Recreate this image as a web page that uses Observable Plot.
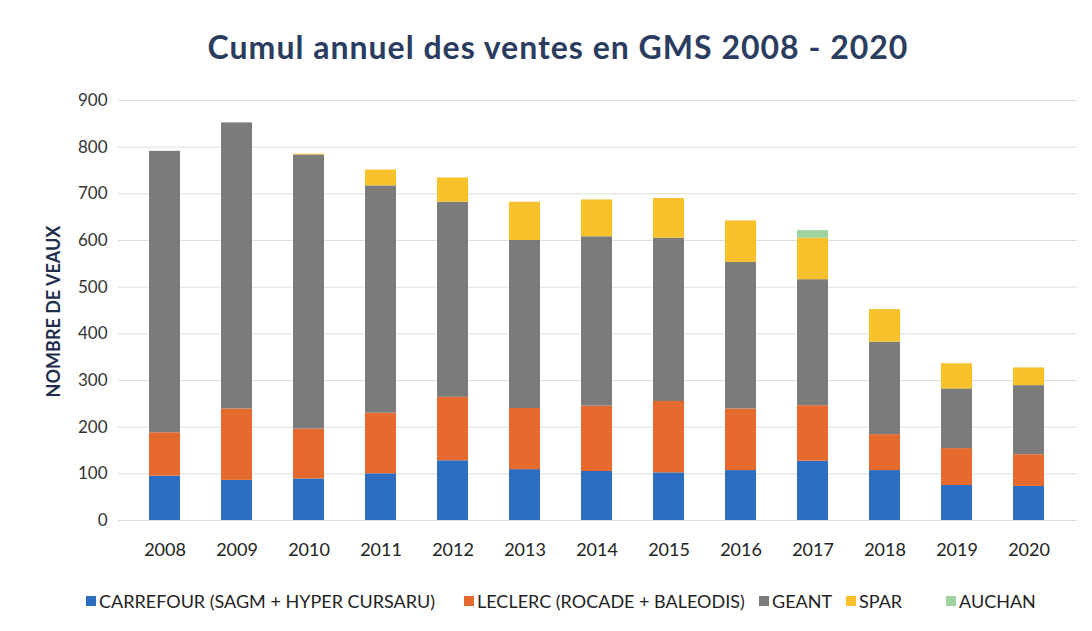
<!DOCTYPE html>
<html><head><meta charset="utf-8">
<script src="https://cdn.jsdelivr.net/npm/d3@7"></script>
<script src="https://cdn.jsdelivr.net/npm/@observablehq/plot@0.6"></script>
<style>
body{margin:0;background:#fff;width:1092px;height:631px;overflow:hidden;font-family:Lato,"Open Sans",sans-serif;position:relative;}
#title{position:absolute;top:27px;left:0;width:1116px;text-align:center;font-weight:bold;font-size:32px;color:#2a3c60;letter-spacing:1px;}
#chart{position:absolute;top:85px;left:0;}
#legend{position:absolute;top:590px;left:0;width:1092px;height:24px;font-size:18px;color:#222;}
#legend .item{position:absolute;top:0;display:flex;align-items:center;white-space:nowrap;}
#legend .sw{width:10px;height:10px;margin-right:3px;}
</style></head>
<body>
<div id="title">Cumul annuel des ventes en GMS 2008 - 2020</div>
<div id="chart"></div>
<div id="legend"></div>
<script>
const years = ["2008","2009","2010","2011","2012","2013","2014","2015","2016","2017","2018","2019","2020"];
const seriesNames = ["CARREFOUR (SAGM + HYPER CURSARU)","LECLERC (ROCADE + BALEODIS)","GEANT","SPAR","AUCHAN"];
const carrefour = [95, 86, 89, 100, 128, 109, 105, 102, 107, 127, 107, 75, 73];
const leclerc   = [93, 153, 107, 130, 136, 131, 140, 153, 132, 119, 77, 79, 68];
const geant     = [603, 613, 587, 487, 418, 360, 363, 350, 314, 270, 198, 128, 148];
const spar      = [0, 0, 2, 34, 52, 82, 79, 85, 89, 89, 70, 54, 38];
const auchan    = [0, 0, 0, 0, 0, 0, 0, 0, 0, 16, 0, 0, 0];
const yTicks = [0,100,200,300,400,500,600,700,800,900];
const colors = ["#2c6dc2","#e6692d","#7b7b7b","#f6c12a","#9dd39f"];
const legendLeft = [86, 464, 759, 846, 946];

const seriesValues = [carrefour, leclerc, geant, spar, auchan];
const data = [];
seriesNames.forEach((s, i) => years.forEach((y, j) => data.push({year: y, series: s, value: seriesValues[i][j]})));

const chart = Plot.plot({
  width: 1092,
  height: 475,
  marginTop: 15,
  marginBottom: 40,
  marginLeft: 124,
  marginRight: 23,
  style: {fontFamily: "Lato, 'Open Sans', sans-serif", fontSize: "16px", color: "#333", background: "transparent"},
  x: {domain: years, paddingInner: 0.57, paddingOuter: 0.285, label: null},
  y: {domain: [0, 900], ticks: yTicks, label: null},
  color: {domain: seriesNames, range: colors},
  marks: [
    Plot.gridY(yTicks, {stroke: "#dedede", strokeOpacity: 1, insetLeft: -6, insetRight: -8}),
    Plot.barY(data, Plot.stackY({order: seriesNames}, {x: "year", y: "value", fill: "series"})),
    Plot.axisY(yTicks, {tickSize: 0, tickPadding: 17, label: null, fontSize: 17, fill: "#333"}),
    Plot.axisX({tickSize: 0, tickPadding: 23, label: null, fontSize: 18, fill: "#222"}),
    Plot.text(["NOMBRE DE VEAUX"], {frameAnchor: "left", textAnchor: "middle", rotate: -90, dx: -70, dy: 1, fontWeight: "bold", fontSize: 18, fill: "#1f2d4f"})
  ]
});
document.getElementById("chart").appendChild(chart);

const legend = document.getElementById("legend");
seriesNames.forEach((s, i) => {
  const it = document.createElement("div"); it.className = "item"; it.style.left = legendLeft[i] + "px";
  const sw = document.createElement("div"); sw.className = "sw"; sw.style.background = colors[i];
  const tx = document.createElement("span"); tx.textContent = s;
  it.appendChild(sw); it.appendChild(tx); legend.appendChild(it);
});
</script>
</body></html>
